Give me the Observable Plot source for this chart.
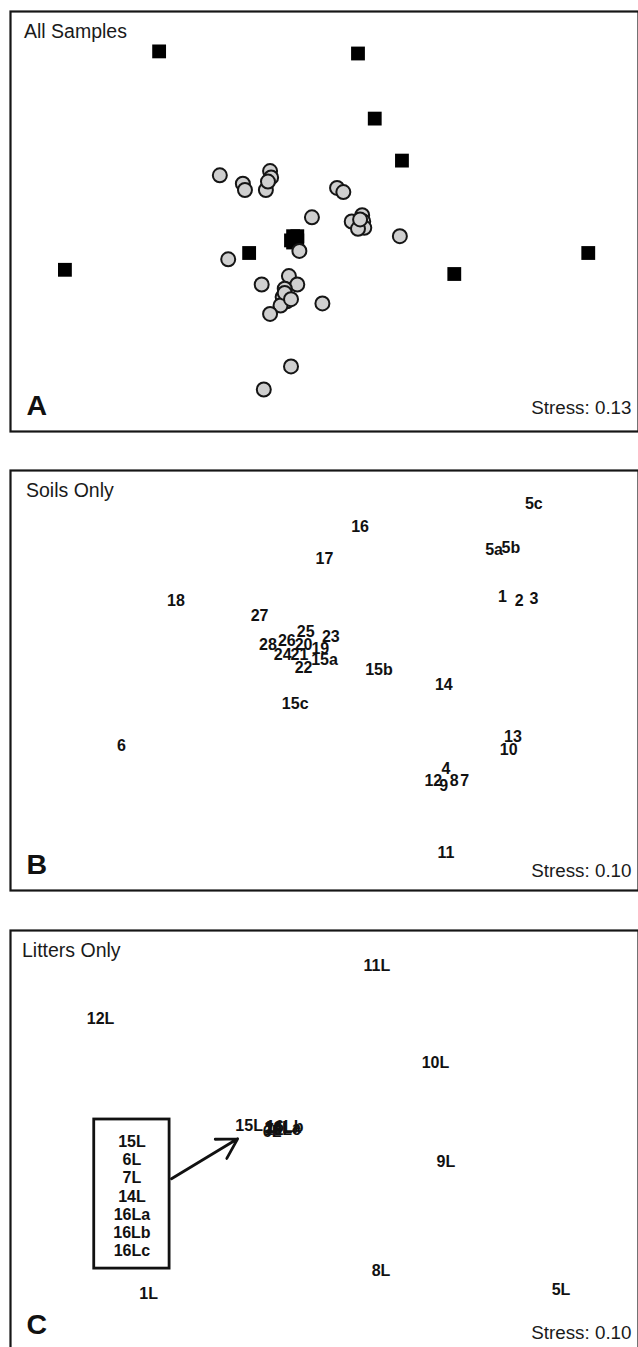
<!DOCTYPE html>
<html>
<head>
<meta charset="utf-8">
<script src="https://cdn.jsdelivr.net/npm/d3@7"></script>
<script src="https://cdn.jsdelivr.net/npm/@observablehq/plot@0.6"></script>
<style>
  html, body { margin: 0; padding: 0; background: white; overflow: hidden; }
  svg { display: block; }
</style>
</head>
<body>
<div id="chart"></div>
<script>
// ---------- Panel A: All Samples (NMDS scores, arbitrary units) ----------
const soilAX = [-0.50, -0.39, -0.38, -0.26, -0.255, -0.28, 0.06, 0.09, -0.06, 0.13, 0.18, 0.185, 0.19, 0.16, 0.36, -0.12, -0.46, -0.30, -0.17, -0.13, -0.19, -0.20, -0.18, -0.21, -0.26, -0.01, -0.16, -0.29, -0.19, -0.16, 0.17, -0.27];
const soilAY = [0.22, 0.18, 0.15, 0.24, 0.21, 0.15, 0.16, 0.14, 0.02, 0.00, 0.03, 0.00, -0.03, -0.035, -0.07, -0.14, -0.18, -0.30, -0.26, -0.30, -0.32, -0.36, -0.38, -0.40, -0.44, -0.39, -0.69, -0.80, -0.34, -0.37, 0.01, 0.19];
const litterAX = [-0.79, 0.16, 0.24, 0.37, -1.24, -0.36, -0.13, -0.16, 0.62, 1.26, -0.14, -0.15, -0.13, -0.15];
const litterAY = [0.81, 0.80, 0.49, 0.29, -0.23, -0.15, -0.07, -0.09, -0.25, -0.15, -0.08, -0.10, -0.09, -0.07];

// ---------- Panel B: Soils only ----------
const soilLabels = ["5c", "16", "5a", "5b", "17", "1", "2", "3", "18", "27", "25", "23", "28", "26", "20", "19", "24", "21", "15a", "22", "15b", "14", "15c", "13", "10", "6", "4", "12", "9", "8", "7", "11"];
const soilBX = [1.00, 0.17, 0.81, 0.89, 0.00, 0.85, 0.93, 1.00, -0.71, -0.31, -0.09, 0.03, -0.27, -0.18, -0.10, -0.02, -0.20, -0.12, 0.00, -0.10, 0.26, 0.57, -0.14, 0.90, 0.88, -0.97, 0.58, 0.52, 0.57, 0.62, 0.67, 0.58];
const soilBY = [0.84, 0.73, 0.62, 0.63, 0.58, 0.40, 0.38, 0.39, 0.38, 0.31, 0.23, 0.21, 0.17, 0.19, 0.17, 0.15, 0.12, 0.12, 0.10, 0.06, 0.05, -0.02, -0.11, -0.27, -0.33, -0.31, -0.42, -0.48, -0.50, -0.48, -0.48, -0.82];

// ---------- Panel C: Litters only ----------
const litterLabels = ["11L", "12L", "10L", "15L", "6L", "7L", "14L", "16La", "16Lc", "16Lb", "9L", "8L", "5L", "1L"];
const litterCX = [0.25, -1.07, 0.53, -0.36, -0.25, -0.24, -0.22, -0.20, -0.20, -0.19, 0.58, 0.27, 1.13, -0.84];
const litterCY = [0.83, 0.58, 0.37, 0.07, 0.04, 0.05, 0.06, 0.06, 0.05, 0.065, -0.10, -0.62, -0.71, -0.73];
// inset key box listing the overlapping litter samples
const keyLabels = ["15L", "6L", "7L", "14L", "16La", "16Lb", "16Lc"];
const keyBox = [{x1: -1.10, x2: -0.74, y1: 0.10, y2: -0.61}];
const keyText = [{x: -0.92, y: -0.263, text: keyLabels.join("\n")}];
const keyArrow = [{x1: -0.731, y1: -0.182, x2: -0.415, y2: 0.008}];

const FONT = "'Liberation Sans', Arial, Helvetica, sans-serif";

function panel(o) {
  return Plot.plot({
    width: 638,
    height: o.height,
    marginLeft: 10,
    marginRight: 0,
    marginTop: o.marginTop,
    marginBottom: o.marginBottom,
    x: {domain: [-1.5, 1.5], axis: null},
    y: {domain: [-1, 1], axis: null},
    style: {fontFamily: FONT, background: "white", color: "#111"},
    marks: [
      Plot.frame({stroke: "#161616", strokeWidth: 2.2}),
      ...o.marks,
      Plot.text([o.title], {frameAnchor: "top-left", dx: o.titleDx, dy: 12.5, fontSize: 19.5, fill: "#1a1a1a"}),
      Plot.text([o.letter], {frameAnchor: "bottom-left", lineAnchor: "bottom", dx: 16, dy: -17, fontSize: 28.5, fontWeight: "bold", fill: "#111"}),
      Plot.text([o.stress], {frameAnchor: "bottom-right", lineAnchor: "bottom", dx: -7, dy: o.stressDy, fontSize: 18.8, fill: "#1a1a1a"})
    ]
  });
}

const soilsA = soilAX.map((x, i) => ({x, y: soilAY[i]}));
const littersA = litterAX.map((x, i) => ({x, y: litterAY[i]}));
const soilsB = soilLabels.map((label, i) => ({label, x: soilBX[i], y: soilBY[i]}));
const littersC = litterLabels.map((label, i) => ({label, x: litterCX[i], y: litterCY[i]}));

const chart = document.getElementById("chart");

chart.append(panel({
  height: 450, marginTop: 11, marginBottom: 19,
  title: "All Samples", titleDx: 13.5, letter: "A", stress: "Stress: 0.13", stressDy: -17.5,
  marks: [
    Plot.dot(littersA, {x: "x", y: "y", symbol: "square", r: 7.8, fill: "#000", stroke: "none"}),
    Plot.dot(soilsA, {x: "x", y: "y", r: 7, fill: "#cfcfcf", stroke: "#151515", strokeWidth: 2})
  ]
}));

chart.append(panel({
  height: 460, marginTop: 20, marginBottom: 20,
  title: "Soils Only", titleDx: 15.5, letter: "B", stress: "Stress: 0.10", stressDy: -14,
  marks: [
    Plot.text(soilsB, {x: "x", y: "y", text: "label", fontSize: 16, fontWeight: "bold", fill: "#111"})
  ]
}));

chart.append(panel({
  height: 440, marginTop: 20, marginBottom: 0,
  title: "Litters Only", titleDx: 11.5, letter: "C", stress: "Stress: 0.10", stressDy: -12,
  marks: [
    Plot.text(littersC, {x: "x", y: "y", text: "label", fontSize: 16, fontWeight: "bold", fill: "#111"}),
    Plot.rect(keyBox, {x1: "x1", x2: "x2", y1: "y1", y2: "y2", fill: "none", stroke: "#111", strokeWidth: 2.8}),
    Plot.text(keyText, {x: "x", y: "y", text: "text", fontSize: 16, fontWeight: "bold", lineHeight: 1.14, fill: "#111"}),
    Plot.arrow(keyArrow, {x1: "x1", y1: "y1", x2: "x2", y2: "y2", stroke: "#111", strokeWidth: 2.8, headLength: 12})
  ]
}));
</script>
</body>
</html>
